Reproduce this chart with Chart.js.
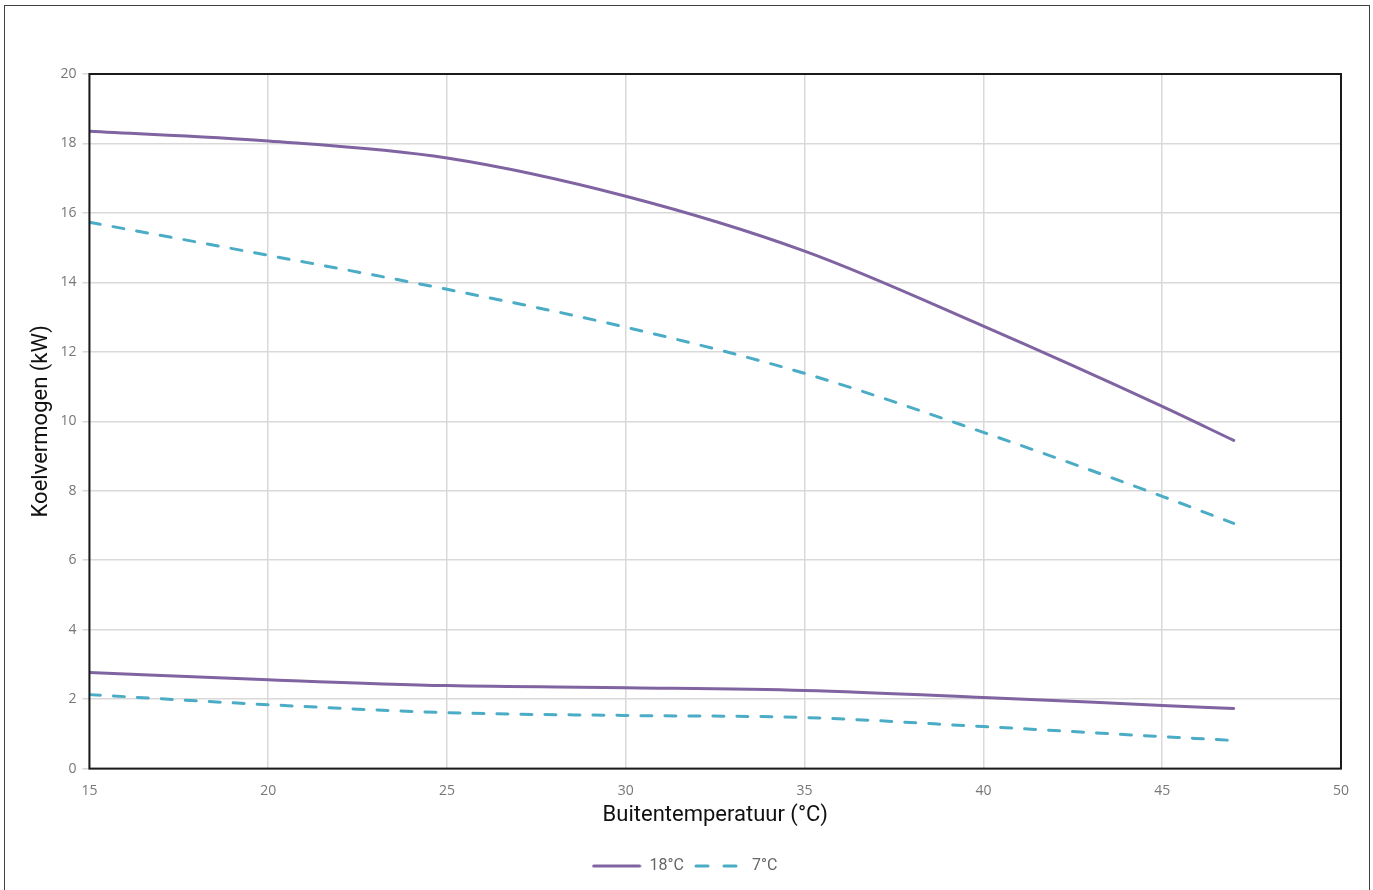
<!DOCTYPE html>
<html>
<head>
<meta charset="utf-8">
<script src="https://cdn.jsdelivr.net/npm/chart.js@4/dist/chart.umd.min.js"></script>
<style>
  html, body { margin: 0; padding: 0; background: #fff; }
  #wrap { position: relative; width: 1373px; height: 890px; }
  #frame { position: absolute; left: 4px; top: 5px; width: 1366px; height: 900px; border: 1px solid #404040; box-sizing: border-box; }
  canvas { position: absolute; left: 0; top: 0; }
</style>
</head>
<body>
<div id="wrap">
  <div id="frame"></div>
  <canvas id="c" width="1373" height="890"></canvas>
</div>
<script>
const temps = [15, 20, 25, 30, 35, 40, 45, 47];
const cap18 = [18.35, 18.07, 17.58, 16.48, 14.9, 12.74, 10.43, 9.45];
const cap7 = [15.73, 14.78, 13.8, 12.71, 11.38, 9.68, 7.84, 7.06];
const low18 = [2.77, 2.56, 2.39, 2.33, 2.25, 2.05, 1.82, 1.73];
const low7 = [2.13, 1.84, 1.61, 1.53, 1.47, 1.21, 0.92, 0.81];
const seriesLabels = ['18°C', '7°C'];
const xTitle = 'Buitentemperatuur (°C)';
const yTitle = 'Koelvermogen (kW)';

const purple = '#8064A2';
const teal = '#4BACC6';
const pts = arr => temps.map((t, i) => ({x: t, y: arr[i]}));

function legendImg(color, dash) {
  const c = document.createElement('canvas');
  c.width = 50; c.height = 6;
  const g = c.getContext('2d');
  g.strokeStyle = color; g.lineWidth = 3; g.lineCap = 'round';
  g.setLineDash(dash);
  g.beginPath(); g.moveTo(2, 3); g.lineTo(48, 3); g.stroke();
  return c;
}
const legendImgs = [legendImg(purple, []), legendImg(teal, [12, 16])];

const frame = {
  id: 'frame',
  afterDatasetsDraw(chart) {
    const a = chart.chartArea, ctx = chart.ctx;
    ctx.save();
    ctx.strokeStyle = '#1a1a1a';
    ctx.lineWidth = 2;
    ctx.strokeRect(a.left, a.top, a.right - a.left, a.bottom - a.top);
    ctx.restore();
  }
};

const common = { fill: false, pointRadius: 0, borderWidth: 3, cubicInterpolationMode: 'monotone', borderCapStyle: 'round' };

new Chart(document.getElementById('c'), {
  type: 'line',
  data: {
    datasets: [
      Object.assign({ label: seriesLabels[0], data: pts(cap18), borderColor: purple, backgroundColor: purple }, common),
      Object.assign({ label: seriesLabels[1], data: pts(cap7), borderColor: teal, backgroundColor: teal, borderDash: [11, 13] }, common),
      Object.assign({ label: 'low18', data: pts(low18), borderColor: purple, backgroundColor: purple }, common),
      Object.assign({ label: 'low7', data: pts(low7), borderColor: teal, backgroundColor: teal, borderDash: [11, 13] }, common)
    ]
  },
  options: {
    responsive: false,
    animation: false,
    layout: { padding: { top: 74, right: 32, left: 28, bottom: 6 } },
    plugins: {
      tooltip: { enabled: false },
      legend: {
        position: 'bottom',
        labels: {
          filter: item => item.datasetIndex < 2,
          usePointStyle: true,
          pointStyleWidth: 50,
          boxHeight: 14,
          color: '#666', font: { family: 'Roboto', size: 16 },
          padding: 10,
          generateLabels(chart) {
            const items = Chart.defaults.plugins.legend.labels.generateLabels(chart);
            items.forEach(it => { if (it.datasetIndex < 2) it.pointStyle = legendImgs[it.datasetIndex]; });
            return items;
          }
        }
      }
    },
    scales: {
      x: {
        type: 'linear', min: 15, max: 50,
        ticks: { stepSize: 5, color: '#777', font: { family: 'Open Sans', size: 14, lineHeight: 1 }, padding: 15 },
        grid: { color: '#d9d9d9', lineWidth: 1.5, tickLength: 0 },
        border: { display: false },
        title: { display: true, text: xTitle, color: '#111', font: { family: 'Roboto', size: 22 }, padding: { top: -10, bottom: 19 } }
      },
      y: {
        min: 0, max: 20,
        ticks: { stepSize: 2, color: '#777', font: { family: 'Open Sans', size: 14 }, padding: 6 },
        grid: { color: '#d9d9d9', lineWidth: 1.5, tickLength: 7 },
        border: { display: false },
        title: { display: true, text: yTitle, color: '#111', font: { family: 'Roboto', size: 22 }, padding: { top: 0, bottom: 0 } }
      }
    }
  },
  plugins: [frame]
});
</script>
</body>
</html>
